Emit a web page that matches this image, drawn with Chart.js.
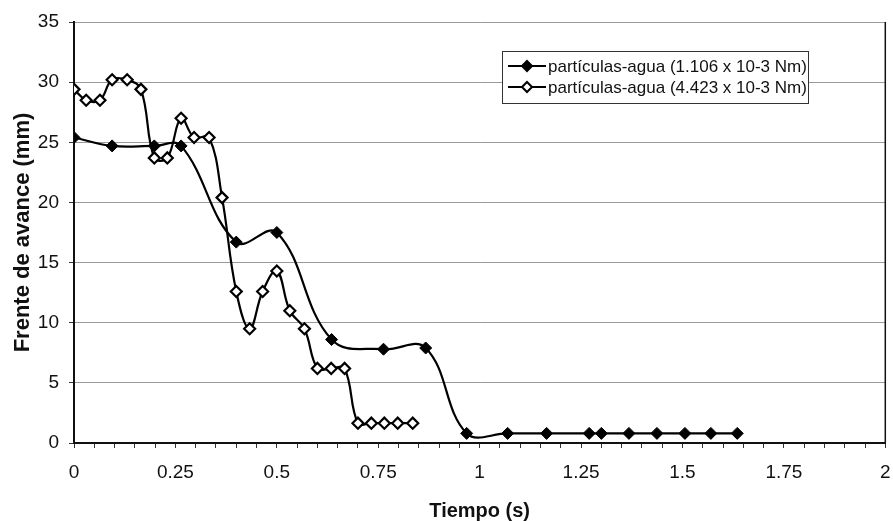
<!DOCTYPE html>
<html>
<head>
<meta charset="utf-8">
<script src="https://cdn.jsdelivr.net/npm/chart.js@4/dist/chart.umd.min.js"></script>
<style>
  body { margin: 0; background: #fff; }
  #wrap { width: 893px; height: 521px; }
</style>
</head>
<body>
<div id="wrap"><canvas id="myChart" width="893" height="521"></canvas></div>
<script>
// valores
const tiempo1 = [0, 0.094, 0.198, 0.264, 0.4, 0.5, 0.635, 0.763, 0.867, 0.968, 1.069, 1.165, 1.27, 1.3, 1.368, 1.437, 1.506, 1.57, 1.635];
const frente1 = [25.4, 24.7, 24.7, 24.7, 16.7, 17.5, 8.6, 7.8, 7.9, 0.8, 0.8, 0.8, 0.8, 0.8, 0.8, 0.8, 0.8, 0.8, 0.8];

const tiempo2 = [0, 0.03, 0.064, 0.094, 0.131, 0.165, 0.198, 0.23, 0.264, 0.296, 0.333, 0.365, 0.4, 0.433, 0.465, 0.5, 0.532, 0.568, 0.6, 0.634, 0.667, 0.7, 0.733, 0.765, 0.798, 0.835];
const frente2 = [29.4, 28.5, 28.5, 30.2, 30.2, 29.4, 23.7, 23.7, 27.0, 25.4, 25.4, 20.4, 12.6, 9.5, 12.6, 14.3, 11.0, 9.5, 6.2, 6.2, 6.2, 1.65, 1.65, 1.65, 1.65, 1.65];

const labels = ['partículas-agua (1.106 x 10-3 Nm)', 'partículas-agua (4.423 x 10-3 Nm)'];
const xTicks = [0, 0.25, 0.5, 0.75, 1, 1.25, 1.5, 1.75, 2];
const yTicks = [0, 5, 10, 15, 20, 25, 30, 35];

const font = 'Liberation Sans';

const toPoints = (xs, ys) => xs.map((x, i) => ({ x: x, y: ys[i] }));

// marco del area de trazado
const framePlugin = {
  id: 'frame',
  afterDraw(chart) {
    const { ctx, chartArea: a } = chart;
    ctx.save();
    ctx.strokeStyle = '#111';
    ctx.lineWidth = 1.5;
    ctx.beginPath();
    ctx.moveTo(a.right, a.top);
    ctx.lineTo(a.right, a.bottom);
    ctx.stroke();
    ctx.restore();
  }
};

// leyenda dentro del grafico, arriba a la derecha
const legendPlugin = {
  id: 'boxLegend',
  afterDraw(chart) {
    const { ctx } = chart;
    const x0 = 502, y0 = 51, w = 306, h = 52;
    ctx.save();
    ctx.fillStyle = '#fff';
    ctx.fillRect(x0, y0, w, h);
    ctx.strokeStyle = '#333';
    ctx.lineWidth = 1;
    ctx.strokeRect(x0 + 0.5, y0 + 0.5, w, h);
    ctx.font = '17px "' + font + '"';
    ctx.textBaseline = 'middle';
    chart.data.datasets.forEach((ds, i) => {
      const cy = y0 + 15 + i * 21;
      ctx.strokeStyle = '#000';
      ctx.lineWidth = 2;
      ctx.beginPath();
      ctx.moveTo(x0 + 6, cy);
      ctx.lineTo(x0 + 44, cy);
      ctx.stroke();
      const cx = x0 + 25, r = 5;
      ctx.beginPath();
      ctx.moveTo(cx, cy - r);
      ctx.lineTo(cx + r, cy);
      ctx.lineTo(cx, cy + r);
      ctx.lineTo(cx - r, cy);
      ctx.closePath();
      ctx.fillStyle = ds.pointBackgroundColor;
      ctx.fill();
      ctx.lineWidth = 2;
      ctx.stroke();
      ctx.fillStyle = '#111';
      ctx.fillText(ds.label, x0 + 46, cy + 1);
    });
    ctx.restore();
  }
};

const data = {
  datasets: [
    {
      label: labels[0],
      data: toPoints(tiempo1, frente1),
      borderColor: '#000',
      borderWidth: 2.2,
      pointStyle: 'rectRot',
      pointRadius: 6,
      pointBackgroundColor: '#000',
      pointBorderColor: '#000',
      pointBorderWidth: 1,
      tension: 0.4,
    },
    {
      label: labels[1],
      data: toPoints(tiempo2, frente2),
      borderColor: '#000',
      borderWidth: 2.2,
      pointStyle: 'rectRot',
      pointRadius: 5.5,
      pointBackgroundColor: '#fff',
      pointBorderColor: '#000',
      pointBorderWidth: 2.2,
      tension: 0.4,
    }
  ]
};

const options = {
  responsive: false,
  animation: false,
  layout: { padding: { top: 22, right: 6, left: 0, bottom: 0 } },
  plugins: {
    legend: { display: false },
    tooltip: { enabled: false },
  },
  scales: {
    x: {
      type: 'linear',
      min: 0,
      max: 2,
      afterBuildTicks: (scale) => {
        const t = [];
        for (let i = 0; i <= 40; i++) t.push({ value: i * 0.05 });
        scale.ticks = t;
      },
      afterFit: (scale) => {
        scale.height = 78;
        scale.paddingLeft = 0;
        scale.paddingRight = 0;
      },
      border: { color: '#111', width: 2 },
      grid: { drawOnChartArea: false, tickLength: 5, tickColor: '#333' },
      ticks: {
        color: '#111',
        font: { family: font, size: 19 },
        padding: 13,
        autoSkip: false,
        maxRotation: 0,
        callback: (v) => {
          const r = Math.round(v * 100) / 100;
          return xTicks.includes(r) ? String(r) : '';
        }
      },
      title: {
        display: true,
        text: 'Tiempo (s)',
        color: '#111',
        font: { family: font, size: 20, weight: 'bold', lineHeight: 1 },
        padding: { top: 10, bottom: 0 }
      }
    },
    y: {
      min: 0,
      max: 35,
      afterBuildTicks: (scale) => { scale.ticks = yTicks.map(v => ({ value: v })); },
      afterFit: (scale) => { scale.width = 74; },
      border: { color: '#111', width: 2 },
      grid: { color: '#9a9a9a', lineWidth: 1, tickLength: 5, tickColor: '#333' },
      ticks: {
        color: '#111',
        font: { family: font, size: 19 },
        padding: 10,
      },
      title: {
        display: true,
        text: 'Frente de avance (mm)',
        color: '#111',
        font: { family: font, size: 22, weight: 'bold', lineHeight: 1 },
        padding: { top: 12, bottom: 0 }
      }
    }
  }
};

new Chart(document.getElementById('myChart').getContext('2d'), {
  type: 'line',
  data: data,
  options: options,
  plugins: [framePlugin, legendPlugin],
});
</script>
</body>
</html>
